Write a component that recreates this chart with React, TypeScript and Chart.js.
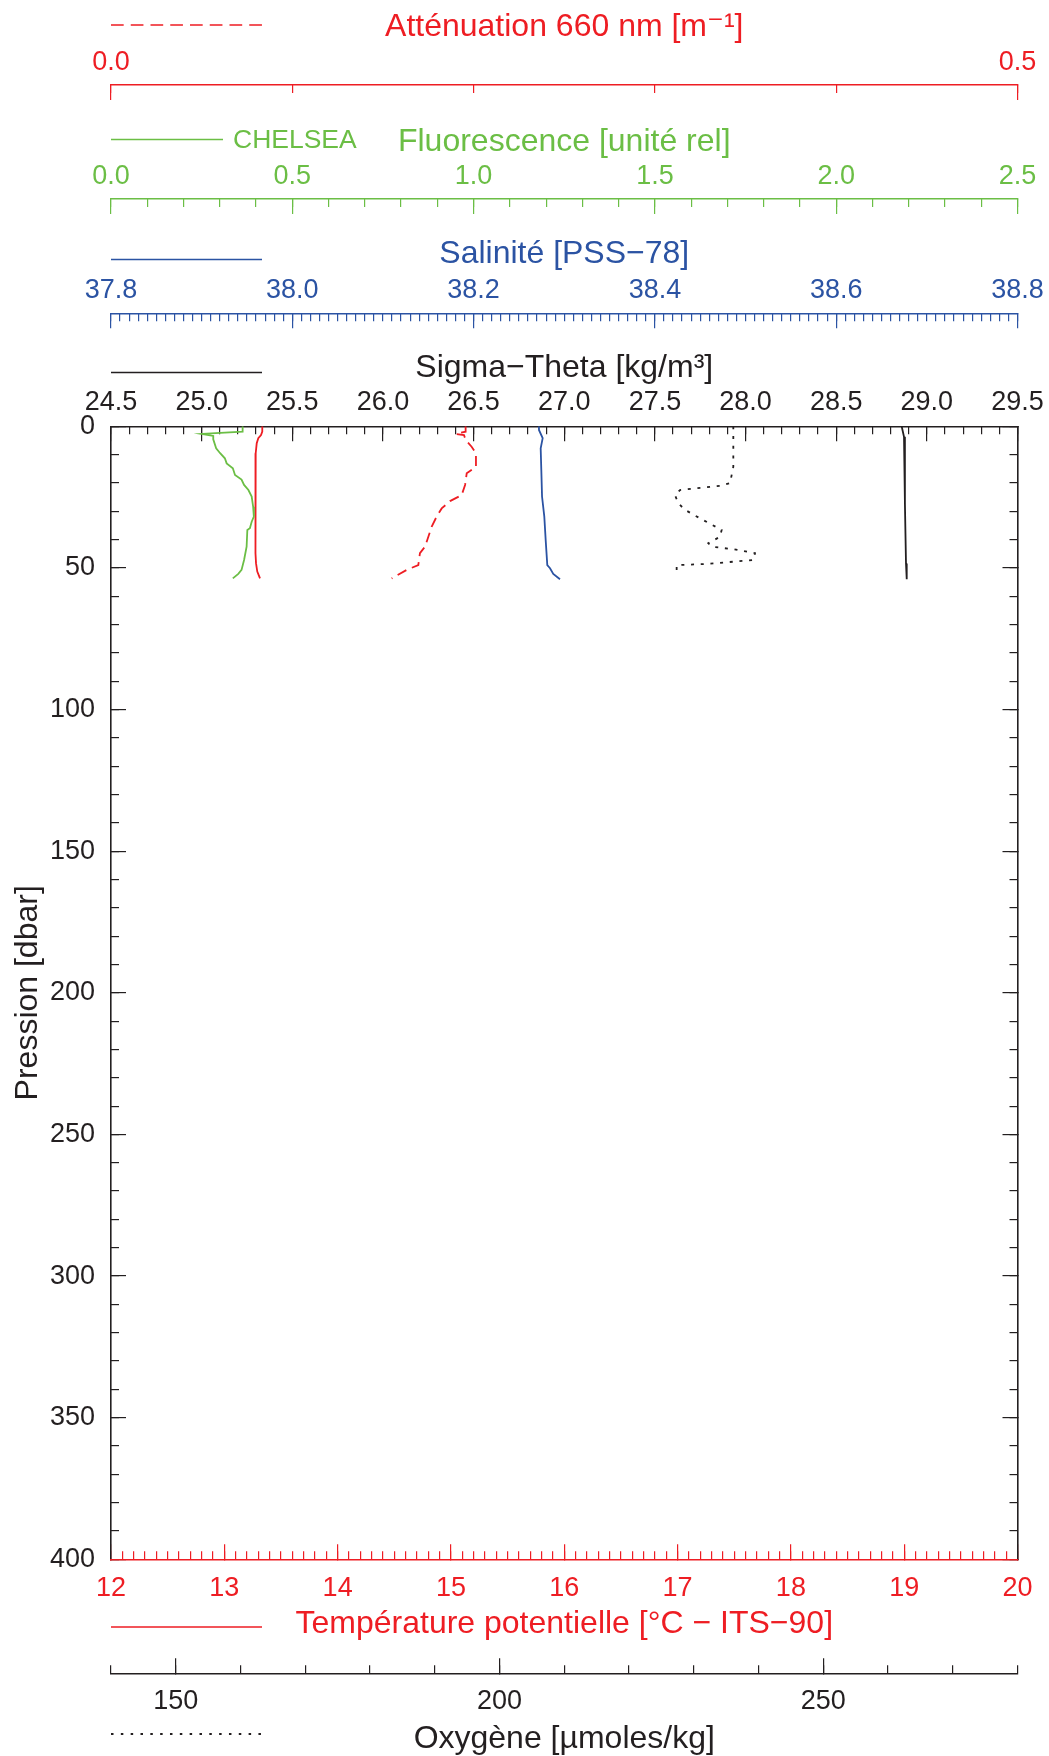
import { useEffect, useRef } from 'react';
import { Chart, registerables } from 'chart.js';

Chart.register(...registerables);

const FONT = "'Liberation Sans', Arial, Helvetica, 'DejaVu Sans', sans-serif";
const RED = '#EE1D23';
const GREEN = '#6BBE45';
const BLUE = '#2B53A3';
const BLACK = '#231F20';
const TICK_SIZE = 27;
const TITLE_SIZE = 32;

// ---- axis ranges and tick steps [major, minor] ----
const pressureRange = [0, 400];
const pressureSteps = [50, 10];
const attRange = [0, 0.5];
const attSteps = [0.5, 0.1];
const fluoRange = [0, 2.5];
const fluoSteps = [0.5, 0.1];
const salRange = [37.8, 38.8];
const salSteps = [0.2, 0.01];
const sigmaRange = [24.5, 29.5];
const sigmaSteps = [0.5, 0.1];
const tempRange = [12, 20];
const tempSteps = [1, 0.1];
const oxyRange = [140, 280];
const oxySteps = [50, 10];

// ---- profiles (pressure in dbar) ----
const fluoPressure = [0, 1.9, 2.7, 3.4, 4.6, 7.8, 9.5, 11.3, 13.1, 14.8, 17.2, 18.8, 20.7, 22.5, 24.8, 28.4, 31.9, 33.7, 36.0, 36.6, 42.5, 47.2, 50.7, 52.1, 53.7];
const fluoValues = [0.363, 0.363, 0.250, 0.282, 0.282, 0.290, 0.301, 0.314, 0.319, 0.336, 0.342, 0.360, 0.367, 0.379, 0.388, 0.392, 0.394, 0.388, 0.383, 0.376, 0.374, 0.367, 0.360, 0.351, 0.336];

const tempPressure = [0, 1.9, 3.1, 4.2, 6.0, 9.5, 21.3, 33.1, 44.8, 48.4, 51.3, 53.7];
const tempValues = [13.335, 13.335, 13.324, 13.300, 13.286, 13.277, 13.274, 13.274, 13.277, 13.280, 13.291, 13.315];

const attPressure = [0, 1.9, 2.7, 3.1, 4.8, 7.2, 9.5, 14.3, 16.6, 20.7, 24.3, 26.4, 29.0, 31.9, 35.4, 42.5, 44.8, 49.0, 50.7, 53.7];
const attValues = [0.1956, 0.1956, 0.1903, 0.1947, 0.1956, 0.1989, 0.2013, 0.2013, 0.1962, 0.1953, 0.1934, 0.1870, 0.1824, 0.1796, 0.1769, 0.1732, 0.1704, 0.1695, 0.1631, 0.1548];

const salPressure = [0, 1.3, 4.2, 7.8, 15.4, 24.8, 31.9, 40.1, 49.0, 50.1, 52.1, 54.0];
const salValues = [38.2721, 38.2721, 38.2762, 38.2740, 38.2747, 38.2755, 38.2780, 38.2795, 38.2813, 38.2843, 38.2879, 38.2953];

const sigmaPressure = [0, 3.7, 9.5, 27.2, 48.4, 54.0];
const sigmaValues = [28.861, 28.874, 28.879, 28.879, 28.885, 28.889];

const oxyPressure = [0, 4.8, 14.3, 20.1, 21.0, 22.5, 24.3, 27.2, 29.5, 32.5, 36.6, 39.0, 41.3, 42.5, 43.4, 44.8, 47.2, 48.6, 49.0, 53.1];
const oxyValues = [236.11, 236.11, 236.11, 235.60, 234.05, 227.88, 227.10, 227.62, 228.65, 230.97, 234.31, 234.05, 232.25, 232.77, 236.11, 239.46, 239.20, 232.00, 227.36, 227.36];

// ---- titles ----
const titleAtt = 'Atténuation 660 nm [m⁻¹]';
const titleFluo = 'Fluorescence [unité rel]';
const titleSal = 'Salinité [PSS−78]';
const titleSigma = 'Sigma−Theta [kg/m³]';
const titleTemp = 'Température potentielle [°C − ITS−90]';
const titleOxy = 'Oxygène [µmoles/kg]';
const titlePressure = 'Pression [dbar]';
const fluoSensor = 'CHELSEA';

type Spec = {
  position: 'top' | 'bottom' | 'left' | 'right';
  weight: number;
  range: number[];
  step: number;
  color: string;
  tickLen: number;
  size: number;
  labels?: boolean;
  decimals?: number;
  labelPad?: number;
  title?: string;
  titlePadTop?: number;
  titlePadBottom?: number;
  border?: boolean;
  reverse?: boolean;
};

function axis(s: Spec) {
  const horizontal = s.position === 'top' || s.position === 'bottom';
  return {
    type: 'linear',
    axis: horizontal ? 'x' : 'y',
    position: s.position,
    weight: s.weight,
    min: s.range[0],
    max: s.range[1],
    reverse: !!s.reverse,
    border: { display: s.border !== false, color: s.color, width: 1.6 },
    grid: {
      display: true,
      drawOnChartArea: false,
      drawTicks: true,
      tickLength: -s.tickLen,
      color: s.color,
      tickColor: s.color,
      tickWidth: 1.2,
      lineWidth: 1.2,
    },
    ticks: {
      display: !!s.labels,
      stepSize: s.step,
      autoSkip: false,
      includeBounds: false,
      maxRotation: 0,
      minRotation: 0,
      precision: 4,
      padding: s.labelPad ?? 0,
      color: s.color,
      font: { family: FONT, size: TICK_SIZE },
      callback: (v: any) => Number(v).toFixed(s.decimals ?? 0),
    },
    title: s.title
      ? {
          display: true,
          text: s.title,
          color: s.color,
          font: { family: FONT, size: TITLE_SIZE },
          padding: { top: s.titlePadTop ?? 0, bottom: s.titlePadBottom ?? 0 },
        }
      : { display: false },
    afterFit: (sc: any) => {
      if (horizontal) sc.height = s.size;
      else sc.width = s.size;
      sc.paddingLeft = 0;
      sc.paddingRight = 0;
      sc.paddingTop = 0;
      sc.paddingBottom = 0;
    },
  };
}

const legendSamples = {
  id: 'legendSamples',
  afterDraw(chart: any) {
    const ctx = chart.ctx as CanvasRenderingContext2D;
    const x0 = chart.chartArea.left;
    const line = (y: number, x1: number, color: string, dash: number[], w = 1.6) => {
      ctx.save();
      ctx.strokeStyle = color;
      ctx.lineWidth = w;
      ctx.setLineDash(dash);
      ctx.beginPath();
      ctx.moveTo(x0, y);
      ctx.lineTo(x1, y);
      ctx.stroke();
      ctx.restore();
    };
    line(25, 262, RED, [12.7, 7.05]);
    line(139.5, 223, GREEN, []);
    ctx.save();
    ctx.fillStyle = GREEN;
    ctx.font = `26.5px ${FONT}`;
    ctx.textBaseline = 'middle';
    ctx.textAlign = 'left';
    ctx.fillText(fluoSensor, 233, 140.5);
    ctx.restore();
    line(259.5, 262, BLUE, []);
    line(372.5, 262, BLACK, []);
    line(1627, 262, RED, []);
    line(1734, 262, BLACK, [2.5, 7.33], 1.8);
  },
};

function series(xs: number[], ps: number[]) {
  return xs.map((v, i) => ({ x: v, y: ps[i] }));
}

export default function App() {
  const ref = useRef<HTMLCanvasElement>(null);

  useEffect(() => {
    const base = { showLine: true, pointRadius: 0, borderWidth: 1.8, fill: false, tension: 0, yAxisID: 'y' };
    const chart = new Chart(ref.current as HTMLCanvasElement, {
      type: 'scatter',
      data: {
        datasets: [
          { ...base, label: 'Fluorescence', data: series(fluoValues, fluoPressure), xAxisID: 'xFluo', borderColor: GREEN },
          { ...base, label: 'Température', data: series(tempValues, tempPressure), xAxisID: 'xTemp', borderColor: RED },
          { ...base, label: 'Atténuation', data: series(attValues, attPressure), xAxisID: 'xAtt', borderColor: RED, borderDash: [10, 6] },
          { ...base, label: 'Salinité', data: series(salValues, salPressure), xAxisID: 'xSal', borderColor: BLUE },
          { ...base, label: 'Sigma-Theta', data: series(sigmaValues, sigmaPressure), xAxisID: 'xSigma', borderColor: BLACK },
          { ...base, label: 'Oxygène', data: series(oxyValues, oxyPressure), xAxisID: 'xOxy', borderColor: BLACK, borderDash: [3, 6.7] },
        ] as any,
      },
      options: {
        animation: false,
        responsive: false,
        events: [],
        layout: { padding: { left: 0, right: 31.5, top: 0, bottom: 0 } },
        plugins: { legend: { display: false }, tooltip: { enabled: false } },
        scales: {
          y: axis({ position: 'left', weight: 1, range: pressureRange, step: pressureSteps[0], color: BLACK, tickLen: 15, size: 111, labels: true, decimals: 0, labelPad: 31, title: titlePressure, titlePadTop: 8.5, reverse: true }),
          yMinor: axis({ position: 'left', weight: 0, range: pressureRange, step: pressureSteps[1], color: BLACK, tickLen: 8, size: 0, border: false, reverse: true }),
          yR: axis({ position: 'right', weight: 0, range: pressureRange, step: pressureSteps[0], color: BLACK, tickLen: 15, size: 0, reverse: true }),
          yRMinor: axis({ position: 'right', weight: 1, range: pressureRange, step: pressureSteps[1], color: BLACK, tickLen: 8, size: 0, border: false, reverse: true }),

          xSigmaMinor: axis({ position: 'top', weight: 0, range: sigmaRange, step: sigmaSteps[1], color: BLACK, tickLen: 8, size: 0, border: false }),
          xSigma: axis({ position: 'top', weight: 1, range: sigmaRange, step: sigmaSteps[0], color: BLACK, tickLen: 15, size: 113, labels: true, decimals: 1, labelPad: 22.5, title: titleSigma, titlePadTop: 35.7 }),
          xSalMinor: axis({ position: 'top', weight: 2, range: salRange, step: salSteps[1], color: BLUE, tickLen: 8, size: 0, border: false }),
          xSal: axis({ position: 'top', weight: 3, range: salRange, step: salSteps[0], color: BLUE, tickLen: 15, size: 114.3, labels: true, decimals: 1, labelPad: 22.0, title: titleSal, titlePadTop: 35.8 }),
          xFluoMinor: axis({ position: 'top', weight: 4, range: fluoRange, step: fluoSteps[1], color: GREEN, tickLen: 8, size: 0, border: false }),
          xFluo: axis({ position: 'top', weight: 5, range: fluoRange, step: fluoSteps[0], color: GREEN, tickLen: 15, size: 114, labels: true, decimals: 1, labelPad: 21.7, title: titleFluo, titlePadTop: 37.5 }),
          xAttMinor: axis({ position: 'top', weight: 6, range: attRange, step: attSteps[1], color: RED, tickLen: 8, size: 0, border: false }),
          xAtt: axis({ position: 'top', weight: 7, range: attRange, step: attSteps[0], color: RED, tickLen: 15, size: 85, labels: true, decimals: 1, labelPad: 21.0, title: titleAtt, titlePadTop: 7.5 }),

          xTempMinor: axis({ position: 'bottom', weight: 0, range: tempRange, step: tempSteps[1], color: RED, tickLen: 8, size: 0, border: false }),
          xTemp: axis({ position: 'bottom', weight: 1, range: tempRange, step: tempSteps[0], color: RED, tickLen: 15, size: 114, labels: true, decimals: 0, labelPad: 27.9, title: titleTemp, titlePadBottom: 30.2 }),
          xOxyMinor: axis({ position: 'bottom', weight: 2, range: oxyRange, step: oxySteps[1], color: BLACK, tickLen: 8, size: 0, border: false }),
          xOxy: axis({ position: 'bottom', weight: 3, range: oxyRange, step: oxySteps[0], color: BLACK, tickLen: 15, size: 82.7, labels: true, decimals: 0, labelPad: 27.2, title: titleOxy, titlePadBottom: -2.3 }),
        } as any,
      },
      plugins: [legendSamples],
    } as any);
    return () => chart.destroy();
  }, []);

  return (
    <div style={{ position: 'absolute', left: 0, top: 0, width: 1049, height: 1756, background: '#fff' }}>
      <canvas ref={ref} width={1049} height={1756} style={{ display: 'block', width: 1049, height: 1756 }} />
    </div>
  );
}
